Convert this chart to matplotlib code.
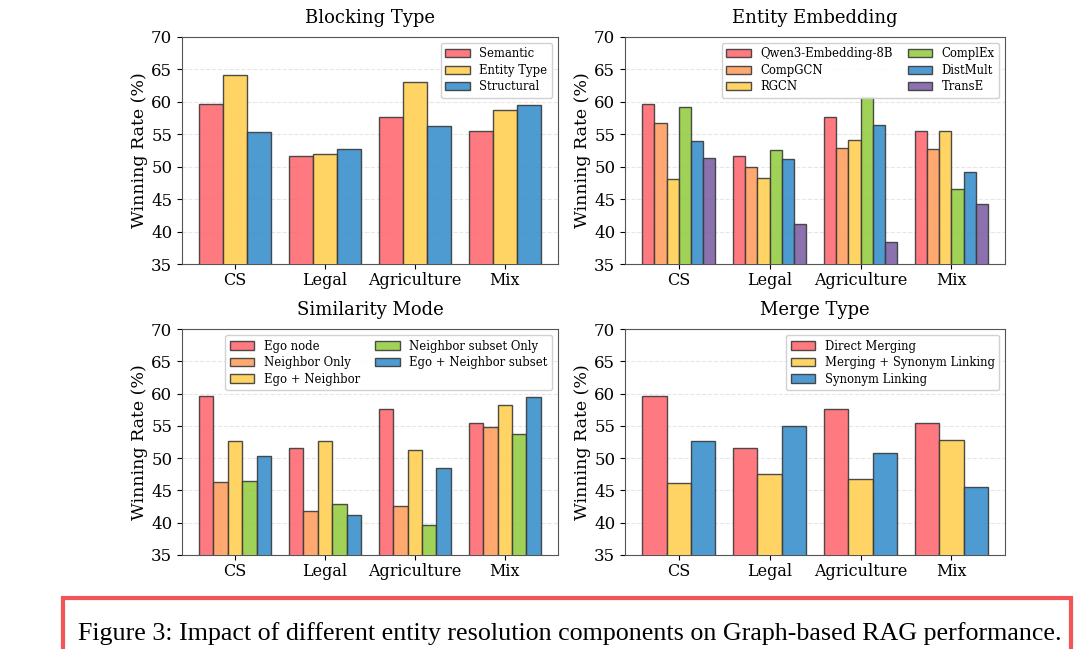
import numpy as np
import matplotlib.pyplot as plt
from matplotlib.patches import Rectangle

plt.rcParams['font.family'] = 'DejaVu Serif'

categories = ["CS", "Legal", "Agriculture", "Mix"]

# Blocking Type
blocking_labels = ["Semantic", "Entity Type", "Structural"]
blocking_semantic = [59.6, 51.6, 57.6, 55.5]
blocking_entity_type = [64.2, 52.0, 63.1, 58.7]
blocking_structural = [55.4, 52.8, 56.3, 59.5]

# Entity Embedding
embed_labels = ["Qwen3-Embedding-8B", "CompGCN", "RGCN", "ComplEx", "DistMult", "TransE"]
embed_qwen = [59.6, 51.6, 57.6, 55.5]
embed_compgcn = [56.7, 50.0, 52.9, 52.7]
embed_rgcn = [48.1, 48.3, 54.2, 55.5]
embed_complex = [59.2, 52.6, 60.7, 46.6]
embed_distmult = [54.0, 51.2, 56.5, 49.2]
embed_transe = [51.3, 41.2, 38.4, 44.3]

# Similarity Mode
sim_labels = ["Ego node", "Neighbor Only", "Ego + Neighbor",
              "Neighbor subset Only", "Ego + Neighbor subset"]
sim_ego = [59.6, 51.6, 57.6, 55.5]
sim_neighbor = [46.3, 41.8, 42.6, 54.8]
sim_ego_neighbor = [52.7, 52.6, 51.3, 58.2]
sim_subset = [46.5, 42.9, 39.6, 53.8]
sim_ego_subset = [50.3, 41.2, 48.4, 59.5]

# Merge Type
merge_labels = ["Direct Merging", "Merging + Synonym Linking", "Synonym Linking"]
merge_direct = [59.6, 51.6, 57.6, 55.5]
merge_both = [46.1, 47.5, 46.8, 52.8]
merge_synonym = [52.6, 55.0, 50.8, 45.5]

red = "#FF6B72"
orange = "#FFA062"
yellow = "#FFD054"
green = "#96CD45"
blue = "#3A90CC"
purple = "#7E62A4"

caption = "Figure 3: Impact of different entity resolution components on Graph-based RAG performance."


def draw(ax, title, series, labels, colors, ncol):
    x = np.arange(len(categories))
    n = len(series)
    w = 0.8 / n
    for i, (vals, lab, c) in enumerate(zip(series, labels, colors)):
        ax.bar(x - 0.4 + w * (i + 0.5), vals, w, label=lab, color=c,
               edgecolor="#3a3a3a", linewidth=1.0, alpha=0.9, zorder=3)
    ax.set_xticks(x)
    ax.set_xticklabels(categories, fontsize=11.5)
    ax.set_ylim(35, 70)
    ax.set_yticks(range(35, 71, 5))
    ax.tick_params(axis="y", labelsize=12)
    ax.tick_params(axis="x", pad=2)
    ax.set_ylabel("Winning Rate (%)", fontsize=12.5, labelpad=2)
    ax.set_title(title, fontsize=13, pad=10)
    ax.grid(axis="y", linestyle="--", alpha=0.3, zorder=0)
    for s in ax.spines.values():
        s.set_color("#555555")
    ax.legend(loc="upper right", ncol=ncol, fontsize=8.4, framealpha=0.9,
              columnspacing=1.3, handlelength=2.1, handletextpad=0.8,
              labelspacing=0.3)


fig = plt.figure(figsize=(10.8, 6.49), dpi=100)
ax1 = fig.add_axes([0.1685, 0.593, 0.348, 0.350])
ax2 = fig.add_axes([0.5787, 0.593, 0.352, 0.350])
ax3 = fig.add_axes([0.1685, 0.145, 0.348, 0.348])
ax4 = fig.add_axes([0.5787, 0.145, 0.352, 0.348])

draw(ax1, "Blocking Type",
     [blocking_semantic, blocking_entity_type, blocking_structural],
     blocking_labels, [red, yellow, blue], 1)
draw(ax2, "Entity Embedding",
     [embed_qwen, embed_compgcn, embed_rgcn, embed_complex, embed_distmult, embed_transe],
     embed_labels, [red, orange, yellow, green, blue, purple], 2)
draw(ax3, "Similarity Mode",
     [sim_ego, sim_neighbor, sim_ego_neighbor, sim_subset, sim_ego_subset],
     sim_labels, [red, orange, yellow, green, blue], 2)
draw(ax4, "Merge Type",
     [merge_direct, merge_both, merge_synonym],
     merge_labels, [red, yellow, blue], 1)

fig.patches.append(Rectangle((63 / 1080, -0.05), (1071 - 63) / 1080, 0.05 + (649 - 598) / 649,
                             transform=fig.transFigure, fill=False,
                             edgecolor="#F25457", linewidth=3))
fig.text(570 / 1080, (649 - 640) / 649, caption, ha="center", va="baseline",
         family="Liberation Serif", fontsize=18.7)

fig.savefig("out.png", dpi=100)
